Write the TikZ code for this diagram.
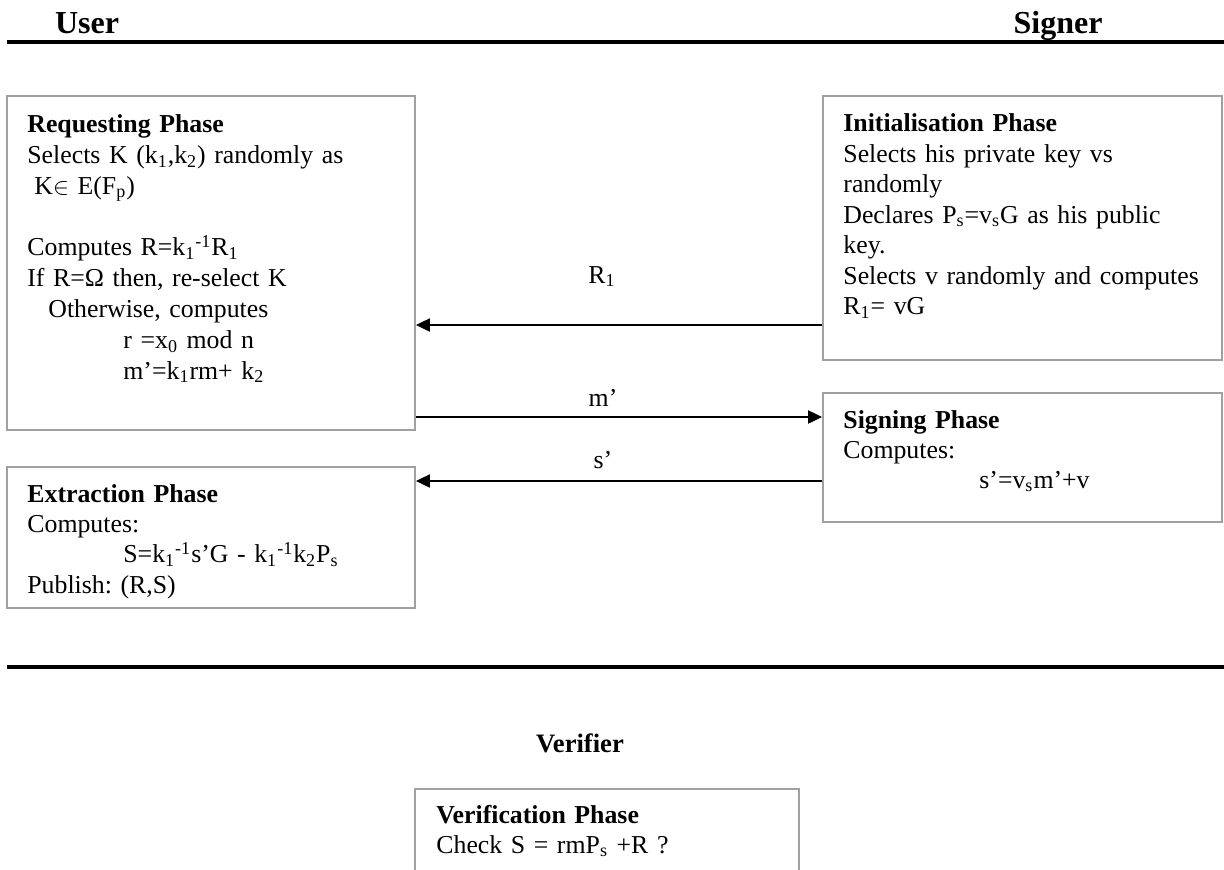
\documentclass[tikz,border=0pt]{standalone}
\usepackage{fontspec}
\setmainfont{Liberation Serif}
\frenchspacing
\usetikzlibrary{arrows.meta,fit}
\definecolor{boxgray}{RGB}{160,160,160}

\begin{document}
\begin{tikzpicture}[x=0.5pt, y=-0.5pt,
    phasebox/.style={draw=boxgray, line width=0.9pt, inner sep=0pt},
    phasetext/.style={anchor=base west, inner sep=0pt, align=left, text width=192pt, font=\fontsize{12.9}{15.4}\selectfont},
    party/.style={anchor=base, inner sep=0pt, font=\fontsize{16}{19}\selectfont\bfseries},
    msg/.style={line width=1pt, -{Triangle[length=7pt, width=6.5pt]}},
    msglabel/.style={anchor=base, inner sep=0pt, font=\fontsize{12.9}{15.4}\selectfont},
    rule/.style={line width=2pt}]
\useasboundingbox (0,0) rectangle (1224,869);
% parties
\node[party] (user) at (87,33) {User};
\node[party] (signer) at (1058,33) {Signer};
\draw[rule] (7,42) -- (1224,42);
% boxes
\node[phasebox, fit={(7,96) (415,430)}] (req) {};
\node[phasebox, fit={(823,96) (1222,360)}] (init) {};
\node[phasebox, fit={(823,393) (1222,522)}] (sign) {};
\node[phasebox, fit={(7,467) (415,608)}] (ext) {};
% box texts
\node[phasetext] (reqtxt) at (27,132.7) {\textbf{Requesting Phase}\\
Selects K (k\textsubscript{1},k\textsubscript{2}) randomly as\\
\hspace*{3.5pt}K$\in$ E(F\textsubscript{p})\\[15.4pt]
Computes R=k\textsubscript{1}\textsuperscript{-1}R\textsubscript{1}\\
If R=Ω then, re-select K\\
\hspace*{10.5pt}Otherwise, computes\\
\hspace*{48pt}r =x\textsubscript{0} mod n\\
\hspace*{48pt}m’=k\textsubscript{1}rm+ k\textsubscript{2}};
\node[phasetext, font=\fontsize{12.9}{15.25}\selectfont] (inittxt) at (843,131.7) {\textbf{Initialisation Phase}\\
Selects his private key vs\\
randomly\\
Declares P\textsubscript{s}=v\textsubscript{s}G as his public\\
key.\\
Selects v randomly and computes\\
R\textsubscript{1}= vG};
\node[phasetext, font=\fontsize{12.9}{15}\selectfont] (signtxt) at (843,428) {\textbf{Signing Phase}\\
Computes:\\
\hspace*{68pt}s’=v\textsubscript{s}m’+v};
\node[phasetext, font=\fontsize{12.9}{15.2}\selectfont] (exttxt) at (27,502) {\textbf{Extraction Phase}\\
Computes:\\
\hspace*{48pt}S=k\textsubscript{1}\textsuperscript{-1}s’G - k\textsubscript{1}\textsuperscript{-1}k\textsubscript{2}P\textsubscript{s}\\
Publish: (R,S)};
% messages
\node[msglabel] (r1lab) at (602,283) {R\textsubscript{1}};
\node[msglabel] (mlab) at (603,406) {m’};
\node[msglabel] (slab) at (603,468) {s’};
\draw[msg] (init.west |- 0,325) -- (req.east |- 0,325);
\draw[msg] (req.east |- 0,417) -- (sign.west |- 0,417);
\draw[msg] (sign.west |- 0,481) -- (ext.east |- 0,481);
% verifier
\draw[rule] (7,667) -- (1224,667);
\node[party, font=\fontsize{13.3}{15.4}\selectfont\bfseries] (verifier) at (580,752) {Verifier};
\node[phasebox, fit={(415,789) (799,890)}] (ver) {};
\node[phasetext, font=\fontsize{12.9}{15}\selectfont] (vertxt) at (436,823) {\textbf{Verification Phase}\\
Check S = rmP\textsubscript{s} +R ?};
\end{tikzpicture}
\end{document}
